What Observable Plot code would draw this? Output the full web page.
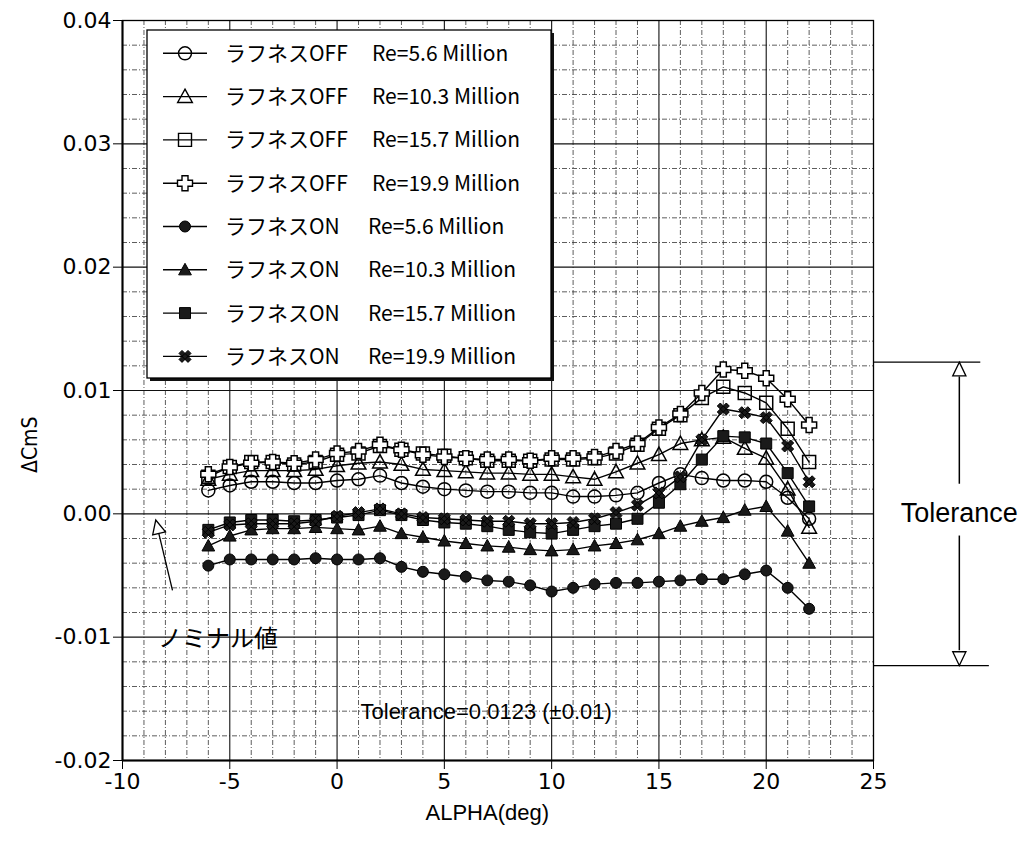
<!DOCTYPE html>
<html><head><meta charset="utf-8">
<script src="https://cdn.jsdelivr.net/npm/d3@7"></script>
<script src="https://cdn.jsdelivr.net/npm/@observablehq/plot@0.6"></script>
<style>
body{margin:0;background:#fff;}
#chart{width:1027px;height:842px;}
</style>
</head><body><div id="chart"></div>
<script>
// ---- data ----
const alpha = [-6,-5,-4,-3,-2,-1,0,1,2,3,4,5,6,7,8,9,10,11,12,13,14,15,16,17,18,19,20,21,22];
const offRe56  = [0.0019,0.0023,0.0026,0.0026,0.0025,0.0025,0.0027,0.0028,0.0031,0.0025,0.0022,0.0020,0.0019,0.0018,0.0018,0.0017,0.0017,0.0014,0.0014,0.0015,0.0017,0.0025,0.0032,0.0029,0.0027,0.0027,0.0026,0.0013,-0.0004];
const offRe103 = [0.0028,0.0032,0.0035,0.0035,0.0035,0.0036,0.0039,0.0041,0.0042,0.0040,0.0036,0.0035,0.0034,0.0033,0.0033,0.0032,0.0032,0.0030,0.0028,0.0034,0.0041,0.0048,0.0057,0.0060,0.0062,0.0053,0.0045,0.0020,-0.0011];
const offRe157 = [0.0030,0.0038,0.0042,0.0042,0.0040,0.0042,0.0048,0.0049,0.0055,0.0052,0.0049,0.0047,0.0045,0.0043,0.0043,0.0043,0.0044,0.0044,0.0045,0.0049,0.0056,0.0069,0.0080,0.0094,0.0103,0.0098,0.0090,0.0069,0.0042];
const offRe199 = [0.0032,0.0038,0.0041,0.0042,0.0041,0.0044,0.0049,0.0051,0.0056,0.0052,0.0048,0.0046,0.0045,0.0044,0.0044,0.0043,0.0045,0.0045,0.0046,0.0051,0.0057,0.0070,0.0081,0.0098,0.0117,0.0116,0.0110,0.0093,0.0072];
const onRe56   = [-0.0042,-0.0037,-0.0037,-0.0037,-0.0037,-0.0036,-0.0037,-0.0037,-0.0036,-0.0043,-0.0047,-0.0049,-0.0051,-0.0054,-0.0055,-0.0058,-0.0063,-0.0060,-0.0057,-0.0056,-0.0056,-0.0055,-0.0054,-0.0053,-0.0053,-0.0049,-0.0046,-0.0060,-0.0077];
const onRe103  = [-0.0026,-0.0018,-0.0013,-0.0012,-0.0012,-0.0011,-0.0012,-0.0013,-0.0010,-0.0016,-0.0019,-0.0022,-0.0024,-0.0026,-0.0027,-0.0029,-0.0030,-0.0029,-0.0026,-0.0024,-0.0021,-0.0016,-0.0010,-0.0006,-0.0003,0.0003,0.0006,-0.0014,-0.0040];
const onRe157  = [-0.0013,-0.0007,-0.0005,-0.0005,-0.0006,-0.0005,-0.0003,-0.0001,0.0003,-0.0001,-0.0005,-0.0007,-0.0008,-0.0010,-0.0013,-0.0015,-0.0016,-0.0013,-0.0010,-0.0008,-0.0004,0.0009,0.0024,0.0044,0.0063,0.0062,0.0057,0.0033,0.0006];
const onRe199  = [-0.0015,-0.0009,-0.0008,-0.0008,-0.0008,-0.0006,-0.0002,0.0001,0.0004,0.0000,-0.0003,-0.0004,-0.0005,-0.0006,-0.0006,-0.0008,-0.0008,-0.0007,-0.0004,0.0001,0.0007,0.0017,0.0030,0.0060,0.0085,0.0082,0.0078,0.0055,0.0026];

const legendState = ["ラフネスOFF","ラフネスOFF","ラフネスOFF","ラフネスOFF","ラフネスON","ラフネスON","ラフネスON","ラフネスON"];
const legendRe = ["Re=5.6 Million","Re=10.3 Million","Re=15.7 Million","Re=19.9 Million","Re=5.6 Million","Re=10.3 Million","Re=15.7 Million","Re=19.9 Million"];

const xTicks = [-10,-5,0,5,10,15,20,25];
const xMinor = [-9,-8,-7,-6,-4,-3,-2,-1,1,2,3,4,6,7,8,9,11,12,13,14,16,17,18,19,21,22,23,24];
const xMajorGrid = [-5,0,5,10,15,20];
const yTicks = [-0.02,-0.01,0.00,0.01,0.02,0.03,0.04];
const yMinor = [-0.018,-0.016,-0.014,-0.012,-0.008,-0.006,-0.004,-0.002,0.002,0.004,0.006,0.008,0.012,0.014,0.016,0.018,0.022,0.024,0.026,0.028,0.032,0.034,0.036,0.038];
const yMajorGrid = [-0.01,0.00,0.01,0.02,0.03];

const tolerance = [0.0123,-0.0123];
const tolLineEnd = [30, 30.4];
const tolArrowX = 29;

// ---- symbols ----
const rOf = size => Math.sqrt(size / Math.PI);
const symCircle = {draw(c, s){const r=rOf(s); c.moveTo(r,0); c.arc(0,0,r,0,2*Math.PI);}};
const symSquare = {draw(c, s){const r=rOf(s); c.rect(-r,-r,2*r,2*r);}};
const symTriangle = {draw(c, s){const r=rOf(s); c.moveTo(0,-r); c.lineTo(r*0.98,r*0.78); c.lineTo(-r*0.98,r*0.78); c.closePath();}};
const symHollowCross = {draw(c, s){const r=rOf(s), w=r*0.4;
  c.moveTo(-w,-r); c.lineTo(w,-r); c.lineTo(w,-w); c.lineTo(r,-w); c.lineTo(r,w); c.lineTo(w,w);
  c.lineTo(w,r); c.lineTo(-w,r); c.lineTo(-w,w); c.lineTo(-r,w); c.lineTo(-r,-w); c.lineTo(-w,-w); c.closePath();}};
const symX = {draw(c, s){const r=rOf(s), a=r*0.5;
  c.moveTo(-r+a,-r); c.lineTo(r,r-a); c.lineTo(r-a,r); c.lineTo(-r,-r+a); c.closePath();
  c.moveTo(r,-r+a); c.lineTo(-r+a,r); c.lineTo(-r,r-a); c.lineTo(r-a,-r); c.closePath();}};
const symTipUp = {draw(c, s){const r=rOf(s); c.moveTo(0,0); c.lineTo(r*0.55,r*1.15); c.lineTo(-r*0.55,r*1.15); c.closePath();}};
const symTipDown = {draw(c, s){const r=rOf(s); c.moveTo(0,0); c.lineTo(r*0.55,-r*1.15); c.lineTo(-r*0.55,-r*1.15); c.closePath();}};

const seriesDefs = [
  {vals: offRe56,  sym: symCircle,      r: 6.5, fill: "none"},
  {vals: offRe103, sym: symTriangle,    r: 7.5, fill: "none"},
  {vals: offRe157, sym: symSquare,      r: 6.5, fill: "none"},
  {vals: offRe199, sym: symHollowCross, r: 7.5, fill: "white"},
  {vals: onRe56,   sym: symCircle,      r: 5.5, fill: "#1a1a1a"},
  {vals: onRe103,  sym: symTriangle,    r: 6.5, fill: "#1a1a1a"},
  {vals: onRe157,  sym: symSquare,      r: 5.5, fill: "#1a1a1a"},
  {vals: onRe199,  sym: symX,           r: 6.0, fill: "#1a1a1a"}
];
const rows = seriesDefs.flatMap((d, k) => alpha.map((a, i) => ({alpha: a, v: d.vals[i], series: k})));

const tickFmtX = d => String(d);
const tickFmtY = d => d.toFixed(2);
const dash = "5,2,1,2";

const chart = Plot.plot({
  width: 1027, height: 842,
  marginLeft: 122, marginRight: 154, marginTop: 20, marginBottom: 82,
  style: {fontFamily: "DejaVu Sans", fontSize: "22px", background: "white", color: "black"},
  x: {domain: [-10, 25]},
  y: {domain: [-0.02, 0.04]},
  marks: [
    Plot.ruleX(xMinor, {stroke: "#333", strokeWidth: 0.8, strokeDasharray: dash}),
    Plot.ruleY(yMinor, {stroke: "#333", strokeWidth: 0.8, strokeDasharray: dash}),
    Plot.ruleX(xMajorGrid, {stroke: "#111", strokeWidth: 1.1}),
    Plot.ruleY(yMajorGrid, {stroke: "#111", strokeWidth: 1.1}),
    Plot.frame({stroke: "black", strokeWidth: 1.3}),
    Plot.ruleX([-10], {stroke: "black", strokeWidth: 2}),
    Plot.ruleY([-0.02], {stroke: "black", strokeWidth: 2}),
    Plot.axisX({ticks: xTicks, tickFormat: tickFmtX, tickSize: 9, tickPadding: 4, label: null, fontSize: 22}),
    Plot.axisY({ticks: yTicks, tickFormat: tickFmtY, tickSize: 9, tickPadding: 2, label: null, fontSize: 22}),
    Plot.line(rows, {x: "alpha", y: "v", z: "series", stroke: "black", strokeWidth: 1.4}),
    ...seriesDefs.map((d, k) => Plot.dot(rows.filter(r => r.series === k), {
      x: "alpha", y: "v", symbol: d.sym, r: d.r, fill: d.fill, stroke: "black", strokeWidth: d.fill === "#1a1a1a" ? 1 : 1.5
    })),
    // tolerance annotation (right margin)
    Plot.ruleY(tolerance.map((t, i) => ({t, x2: tolLineEnd[i]})), {y: "t", x1: 25, x2: "x2", stroke: "black", strokeWidth: 1.3}),
    Plot.ruleX([{y1: 0.0024, y2: 0.0111}, {y1: -0.0018, y2: -0.0111}], {x: tolArrowX, y1: "y1", y2: "y2", stroke: "black", strokeWidth: 1.5}),
    Plot.dot([{y: tolerance[0]}], {x: tolArrowX, y: "y", symbol: symTipUp, r: 12, fill: "white", stroke: "black", strokeWidth: 1.3}),
    Plot.dot([{y: tolerance[1]}], {x: tolArrowX, y: "y", symbol: symTipDown, r: 12, fill: "white", stroke: "black", strokeWidth: 1.3}),
    Plot.text(["Tolerance"], {x: tolArrowX, y: 0, text: d => d, fontFamily: "Liberation Sans", fontSize: 27}),
    // nominal annotation
    Plot.link([{x1: -7.67, y1: -0.0062, x2: -8.32, y2: -0.0015}], {x1: "x1", y1: "y1", x2: "x2", y2: "y2", stroke: "black", strokeWidth: 1.3}),
    Plot.dot([{x: -8.45, y: -0.0005}], {x: "x", y: "y", symbol: symTipUp, r: 12, rotate: -14, fill: "white", stroke: "black", strokeWidth: 1.3}),
    Plot.text(["ノミナル値"], {x: -5.55, y: -0.0102, text: d => d, fontFamily: "Noto Sans CJK JP", fontSize: 24}),
    Plot.text(["Tolerance=0.0123 (±0.01)"], {x: 6.95, y: -0.0161, text: d => d, fontFamily: "Liberation Sans", fontSize: 22}),
    // axis labels
    Plot.text(["ALPHA(deg)"], {x: 7.0, y: -0.02, dy: 52, text: d => d, fontFamily: "Liberation Sans", fontSize: 22}),
    Plot.text(["ΔCmS"], {x: -10, y: 0.0056, dx: -92, rotate: -90, text: d => d, fontFamily: "DejaVu Sans Condensed", fontSize: 21})
  ]
});

// ---- legend box ----
const svg = d3.select(chart);
const lg = svg.append("g").attr("class", "legend").attr("text-anchor", "start");
lg.append("rect").attr("x", 150).attr("y", 33).attr("width", 404).attr("height", 348).attr("fill", "#111");
lg.append("rect").attr("x", 147).attr("y", 30).attr("width", 404).attr("height", 348).attr("fill", "white").attr("stroke", "black").attr("stroke-width", 1.3);
const rowY0 = 53.3, rowDY = 43.3;
seriesDefs.forEach((d, k) => {
  const y = rowY0 + k * rowDY;
  lg.append("line").attr("x1", 163).attr("x2", 207).attr("y1", y).attr("y2", y).attr("stroke", "black").attr("stroke-width", 1.4);
  lg.append("path").attr("transform", `translate(185,${y})`)
    .attr("d", d3.symbol(d.sym, Math.PI * d.r * d.r)())
    .attr("fill", d.fill).attr("stroke", "black").attr("stroke-width", d.fill === "#1a1a1a" ? 1 : 1.4);
  lg.append("text").attr("x", 225).attr("y", y).attr("dy", "0.36em").attr("text-anchor", "start")
    .attr("font-family", "Noto Sans CJK JP").attr("font-size", 21).attr("fill", "black").text(legendState[k]);
  lg.append("text").attr("x", k < 4 ? 372 : 368).attr("y", y).attr("dy", "0.36em").attr("text-anchor", "start")
    .attr("font-family", "Noto Sans CJK JP").attr("font-size", 21).attr("fill", "black").text(legendRe[k]);
});

document.getElementById("chart").appendChild(chart);
</script>
</body></html>
